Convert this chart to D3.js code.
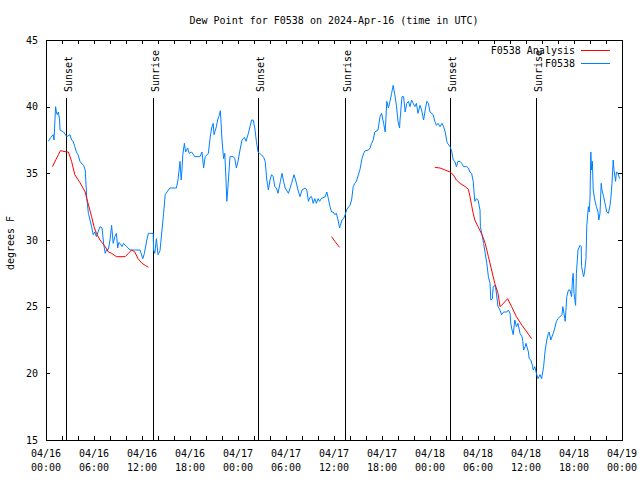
<!DOCTYPE html>
<html><head><meta charset="utf-8">
<script src="https://cdn.jsdelivr.net/npm/d3@7"></script>
<style>
body{margin:0;background:#fff;}
svg{display:block;}
text{font-family:"DejaVu Sans Mono",monospace;font-size:10px;fill:#000;}
</style></head><body>
<svg id="c" width="640" height="480"></svg>
<script>
// ---- data (hours after 2024-04-16 00:00 UTC) ----
const titleText = "Dew Point for F0538 on 2024-Apr-16 (time in UTC)";
const yLabel = "degrees F";
const yTicks = [15, 20, 25, 30, 35, 40, 45];
const seriesNames = ["F0538 Analysis", "F0538"];
const seriesColors = ["#ff0000", "#0080ff"];

const obsHours = [0.3,0.6,0.9,1.0,1.2,1.3,1.4,1.55,1.7,1.75,2.2,2.6,3.0,3.2,3.4,3.6,3.8,4.0,4.25,4.5,4.7,4.9,5.1,5.3,5.5,5.7,5.9,6.1,6.3,6.5,6.75,7.0,7.2,7.4,7.6,7.8,8.0,8.2,8.4,8.6,8.8,8.96,9.1,9.25,9.5,9.7,9.9,10.1,10.5,10.9,11.2,11.5,11.75,12.1,12.3,12.6,12.8,13.1,13.4,13.45,13.6,13.8,14.0,14.25,14.5,14.7,14.9,15.3,15.5,16.3,16.5,16.75,16.9,17.0,17.1,17.3,17.45,17.7,17.9,18.2,18.6,19.25,19.5,19.7,19.9,20.3,20.5,20.7,20.9,21.0,21.3,21.45,21.6,21.8,22.0,22.2,22.35,22.5,22.6,22.7,22.8,23.0,23.4,23.6,23.8,24.0,24.25,24.5,24.8,25.0,25.3,25.5,25.7,25.9,26.1,26.3,26.5,26.7,26.96,27.2,27.4,27.6,27.8,28.0,28.2,28.4,28.6,28.8,29.0,29.3,29.5,29.7,29.9,30.3,30.7,31.0,31.2,31.5,31.75,32.0,32.4,32.6,32.8,33.0,33.2,33.4,33.6,33.8,34.0,34.2,34.4,34.9,35.1,35.3,35.5,35.7,35.9,36.1,36.3,36.5,36.7,36.8,37.0,37.2,37.4,37.6,38.0,38.2,38.4,38.6,38.8,39.0,39.25,39.5,39.7,39.9,40.3,40.5,40.7,40.9,41.1,41.5,41.75,41.95,42.2,42.4,42.6,42.8,43.0,43.2,43.4,43.6,43.8,44.0,44.2,44.25,44.5,44.7,44.9,45.1,45.3,45.5,45.7,45.9,46.1,46.3,46.5,46.75,46.95,47.2,47.4,47.6,47.8,48.0,48.4,48.6,48.8,49.0,49.25,49.5,49.7,49.9,50.1,50.2,50.5,50.7,50.9,51.1,51.3,51.5,51.75,51.95,52.2,52.6,52.8,53.0,53.2,53.4,53.6,53.8,54.0,54.25,54.3,54.5,54.7,54.9,55.1,55.3,55.5,55.6,55.8,55.9,56.1,56.25,56.4,56.5,56.75,56.95,57.2,57.6,57.8,58.0,58.1,58.2,58.4,58.6,58.8,59.0,59.25,59.5,59.6,59.7,59.9,60.0,60.3,60.4,60.6,60.8,60.9,61.1,61.3,61.5,61.75,61.95,62.2,62.4,62.6,62.8,62.9,63.1,63.4,63.6,63.8,64.0,64.5,64.6,64.75,64.9,65.1,65.3,65.5,65.7,65.8,65.9,66.0,66.2,66.3,66.5,66.75,66.9,66.95,67.2,67.3,67.5,67.6,67.8,67.9,68.0,68.1,68.2,68.3,68.4,68.6,68.8,69.0,69.1,69.25,69.4,69.5,69.7,69.96,70.1,70.3,70.5,70.6,70.75,70.9,71.0,71.2,71.3,71.5,71.7];
const obsDew = [37.4,37.7,37.9,37.5,40.0,39.6,39.4,39.6,39.0,38.25,38.1,37.75,37.9,37.5,37.4,37.0,36.6,36.4,35.9,35.7,35.6,35.25,33.1,32.0,31.5,31.0,30.4,30.6,30.25,30.6,31.0,30.9,29.75,29.0,29.3,29.3,30.0,31.1,29.75,30.25,30.5,29.4,29.8,29.75,29.5,29.75,29.6,29.5,29.25,29.25,29.25,29.25,29.25,28.6,29.0,30.0,30.5,30.5,30.5,29.25,29.0,30.1,28.9,29.2,30.75,32.0,33.4,33.75,33.9,33.9,34.5,35.9,34.5,35.3,36.4,37.25,36.6,36.9,36.5,36.6,36.25,36.25,36.6,35.4,36.25,36.5,37.6,38.4,38.75,37.9,38.5,39.0,39.25,39.7,37.5,36.1,36.5,34.5,32.9,33.6,34.5,36.25,36.25,36.1,35.4,35.9,36.75,37.5,37.7,37.4,38.0,38.5,39.0,39.0,38.4,37.4,36.6,36.5,36.375,36.2,35.9,34.5,33.75,34.5,34.9,34.75,34.0,33.9,33.5,34.4,35.0,34.4,33.9,33.5,34.25,34.9,34.5,33.75,33.25,33.75,33.9,33.75,32.9,33.2,33.25,32.75,33.1,32.75,33.1,32.9,33.1,33.25,33.6,33.1,32.5,32.1,32.1,31.9,32.0,31.5,30.9,31.1,31.5,31.6,31.9,32.3,32.6,33.0,34.0,34.25,34.4,34.8,35.3,36.1,36.5,36.7,36.75,36.9,37.25,37.5,38.1,38.25,39.25,39.5,38.75,38.1,40.4,39.9,40.4,41.0,41.6,40.9,40.1,38.9,38.4,39.0,40.75,40.75,39.6,40.25,40.4,40.0,40.5,40.25,40.0,40.25,39.5,40.1,39.75,39.0,39.75,40.4,40.25,39.6,39.4,38.9,38.6,38.75,38.5,38.75,38.5,38.1,37.4,37.25,37.0,36.7,36.0,35.9,35.5,35.9,35.9,35.75,35.5,35.5,35.4,35.1,35.0,34.4,32.9,33.1,33.0,32.25,31.0,30.4,29.75,29.0,28.25,27.25,26.75,25.5,25.6,26.5,26.6,26.25,25.5,25.0,24.75,24.4,24.6,24.6,24.75,24.5,23.75,23.4,22.9,24.0,23.5,23.75,23.0,22.75,22.4,21.75,22.0,22.25,21.6,21.1,21.0,20.6,20.25,20.5,20.0,19.6,19.9,19.6,20.5,21.75,22.5,23.0,23.1,22.5,23.0,23.4,23.9,24.1,24.4,25.0,24.5,23.9,25.75,26.25,26.25,25.75,27.0,27.5,26.0,25.1,27.5,29.25,29.6,29.5,28.0,27.25,27.5,28.6,31.1,32.5,32.1,33.1,36.6,35.25,35.9,33.75,33.0,32.5,32.1,31.5,32.0,34.25,33.75,33.25,32.5,32.1,32.0,32.6,33.1,34.25,36.0,35.25,34.4,35.1,35.0,34.6];

// analysis: null marks a gap
const anaHours = [0.8,1.55,1.8,2.6,2.8,3.2,3.6,4.25,4.9,5.1,5.7,6.0,6.3,6.75,7.4,7.8,8.2,8.8,9.9,10.3,10.7,11.1,11.5,12.0,12.4,12.8,null,35.7,36.1,36.7,null,48.6,49.25,49.9,50.5,50.9,51.3,51.75,52.4,52.8,53.0,53.2,53.4,53.6,54.0,54.5,54.9,55.3,55.7,56.1,56.5,56.75,56.95,57.7,58.2,58.8,59.5,60.1,60.7];
const anaDew = [35.5,36.4,36.7,36.6,36.6,35.9,34.9,34.3,33.6,33.1,31.75,31.0,30.5,30.0,29.5,29.1,29.0,28.75,28.75,29.0,29.25,29.1,28.6,28.25,28.1,27.95,null,30.25,29.9,29.45,null,35.45,35.4,35.25,35.1,34.9,34.5,34.25,34.0,33.8,33.25,32.6,32.0,31.5,31.0,30.4,29.75,28.75,27.75,26.75,26.0,25.0,25.1,25.6,25.0,24.25,23.6,23.1,22.6];

const sunHours = [2.55, 13.38, 26.55, 37.33, 50.53, 61.28];
const sunLabels = ["Sunset", "Sunrise", "Sunset", "Sunrise", "Sunset", "Sunrise"];

// ---- chart ----
const t0 = Date.UTC(2024, 3, 16);
const toDate = h => new Date(t0 + h * 3600e3);
const L = 46, R = 622, T = 40, B = 440;
const svg = d3.select("#c");
const x = d3.scaleUtc().domain([toDate(0), toDate(72)]).range([L, R]);
const y = d3.scaleLinear().domain([15, 45]).range([B, T]);

// title
svg.append("text").attr("x", 334).attr("y", 24).attr("text-anchor", "middle").text(titleText);
// y label
svg.append("text").attr("transform", "translate(14,243) rotate(-90)").attr("text-anchor", "middle").text(yLabel);

const tickTimes = d3.range(0, 73, 2).map(toDate);
const labelTimes = d3.range(0, 73, 6).map(toDate);

function styleAxis(g){ g.select(".domain").remove(); g.selectAll("line").attr("stroke", "#000").attr("shape-rendering","crispEdges"); }

svg.append("g").attr("transform", `translate(0,${B})`)
  .call(d3.axisBottom(x).tickValues(tickTimes).tickSize(-4).tickFormat(""))
  .call(styleAxis);
svg.append("g").attr("transform", `translate(0,${T})`)
  .call(d3.axisTop(x).tickValues(tickTimes).tickSize(-4).tickFormat(""))
  .call(styleAxis);
svg.append("g").attr("transform", `translate(${L},0)`)
  .call(d3.axisLeft(y).tickValues(yTicks).tickSize(-4).tickPadding(8).tickFormat(d3.format("d")))
  .call(styleAxis)
  .call(g => g.selectAll("text").attr("font-family", "DejaVu Sans Mono").attr("font-size", 10).attr("fill","#000"));
svg.append("g").attr("transform", `translate(${R},0)`)
  .call(d3.axisRight(y).tickValues(yTicks).tickSize(-4).tickFormat(""))
  .call(styleAxis);

// two-line x labels
const fmtD = d3.utcFormat("%m/%d"), fmtT = d3.utcFormat("%H:%M");
const xl = svg.append("g").selectAll("text").data(labelTimes).join("text")
  .attr("text-anchor", "middle");
xl.append("tspan").attr("x", d => x(d)).attr("y", 457).text(d => fmtD(d));
xl.append("tspan").attr("x", d => x(d)).attr("y", 471).text(d => fmtT(d));

// sun lines
const sun = svg.append("g");
sun.selectAll("line").data(sunHours).join("line")
  .attr("x1", d => Math.round(x(toDate(d))) + 0.5).attr("x2", d => Math.round(x(toDate(d))) + 0.5)
  .attr("y1", 98).attr("y2", B).attr("stroke", "#000").attr("stroke-width", 1)
  .attr("shape-rendering", "crispEdges");
sun.selectAll("text").data(sunHours).join("text")
  .attr("transform", d => `translate(${Math.round(x(toDate(d))) + 6},92) rotate(-90)`)
  .text((d, i) => sunLabels[i]);

// series lines
const obs = obsHours.map((h, i) => ({h, v: obsDew[i]}));
const ana = anaHours.map((h, i) => ({h, v: anaDew[i]}));
const line = d3.line().defined(d => d.h != null && d.v != null)
  .x(d => x(toDate(d.h))).y(d => y(d.v));

svg.append("path").datum(obs).attr("d", line).attr("fill", "none")
  .attr("stroke", seriesColors[1]).attr("stroke-width", 1);
svg.append("path").datum(ana).attr("d", line).attr("fill", "none")
  .attr("stroke", seriesColors[0]).attr("stroke-width", 1);

// frame
svg.append("rect").attr("x", L + 0.5).attr("y", T + 0.5).attr("width", R - L).attr("height", B - T)
  .attr("fill", "none").attr("stroke", "#000").attr("stroke-width", 1).attr("shape-rendering", "crispEdges");

// legend
const lg = svg.append("g");
seriesNames.forEach((n, i) => {
  const yy = 50 + i * 13;
  lg.append("text").attr("x", 575).attr("y", yy + 3.5).attr("text-anchor", "end").text(n);
  lg.append("line").attr("x1", 581).attr("x2", 610).attr("y1", yy + 0.5).attr("y2", yy + 0.5)
    .attr("stroke", seriesColors[i]).attr("stroke-width", 1).attr("shape-rendering", "crispEdges");
});
</script>
</body></html>
